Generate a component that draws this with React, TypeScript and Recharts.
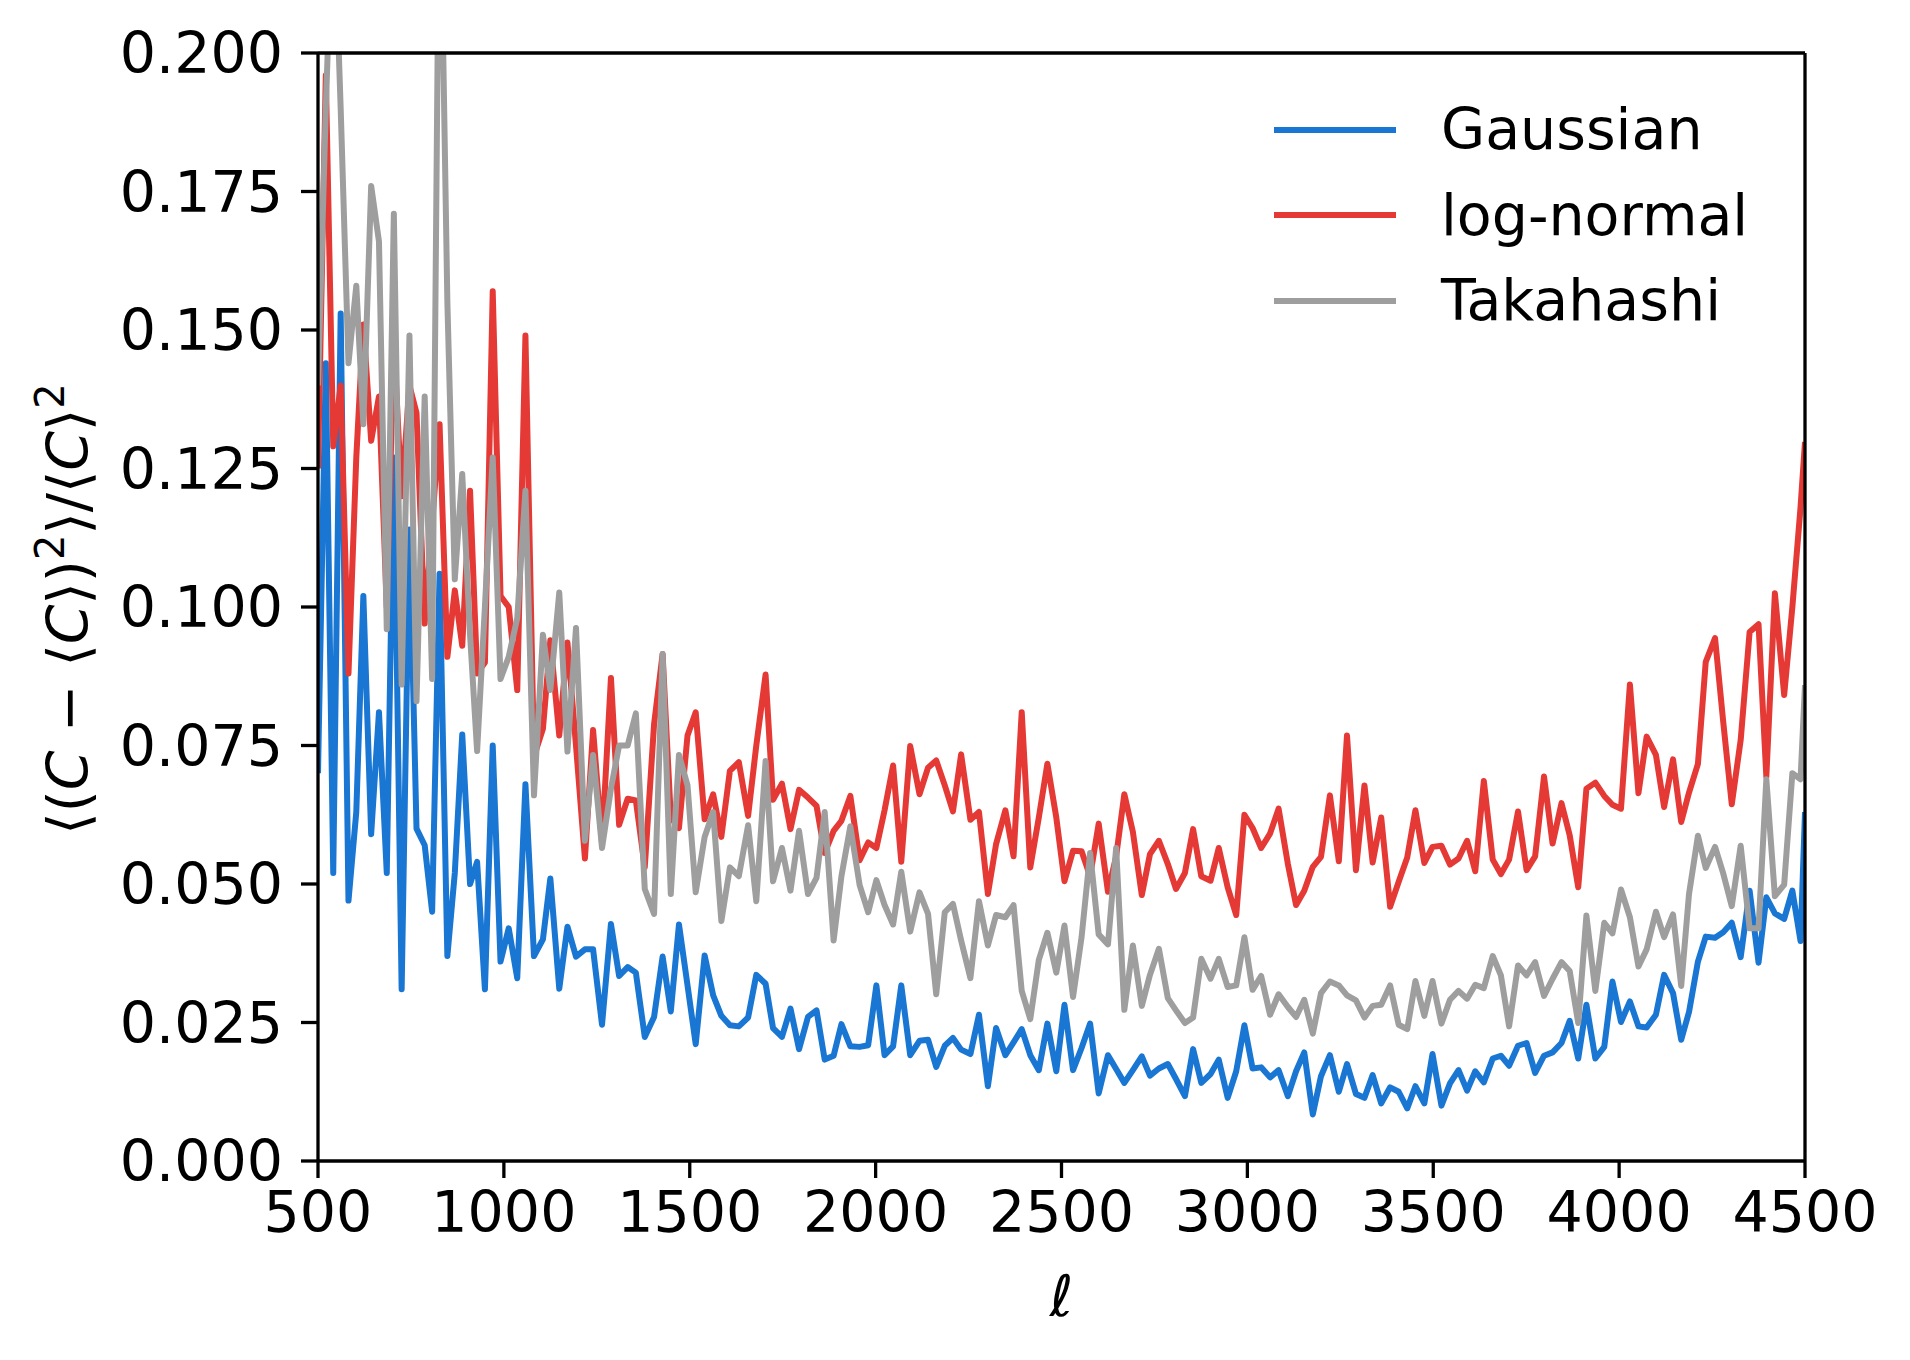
import React from 'react';
import { LineChart, Line, XAxis, YAxis, Legend, ReferenceLine } from 'recharts';

const FONT = '"DejaVu Sans", sans-serif';

const ELLS = [
  500, 521, 541, 561, 582, 603, 622, 643, 664, 685, 704, 725, 746, 765, 787, 807, 827, 848, 868, 888, 909, 928, 949, 970, 991, 1013, 1036, 1058, 1081, 1105, 1125,
  1149, 1171, 1194, 1218, 1240, 1264, 1288, 1310, 1333, 1355, 1379, 1404, 1427, 1449, 1471, 1494, 1516, 1540, 1563, 1585, 1608, 1632, 1657, 1679, 1704, 1724, 1748, 1771, 1794, 1818, 1841, 1863, 1887, 1908, 1932, 1957, 1980, 2002, 2024, 2047, 2069, 2093, 2118, 2141,
  2163, 2186, 2208, 2230, 2255, 2278, 2302, 2324, 2349, 2371, 2393, 2416, 2439, 2462, 2486, 2508, 2531, 2554, 2577, 2600, 2625, 2647, 2669, 2692, 2716, 2738, 2762, 2786, 2808, 2832, 2854, 2876, 2901, 2923, 2947, 2970, 2992, 3014, 3037, 3061, 3084, 3109, 3131, 3153,
  3176, 3198, 3222, 3246, 3268, 3292, 3315, 3337, 3360, 3384, 3407, 3430, 3452, 3476, 3498, 3522, 3545, 3568, 3591, 3613, 3636, 3660, 3682, 3704, 3728, 3751, 3774, 3798, 3821, 3845, 3867, 3890, 3912, 3936, 3960, 3982, 4005, 4029, 4052, 4074, 4099, 4121, 4145, 4167, 4188,
  4212, 4233, 4258, 4280, 4303, 4327, 4351, 4375, 4396, 4419, 4444, 4466, 4488, 4500,
];

const GAUSSIAN = [
  0.070, 0.144, 0.052, 0.153, 0.047, 0.063, 0.102, 0.059, 0.081, 0.052, 0.127, 0.031, 0.114, 0.060, 0.057, 0.045, 0.106, 0.037, 0.052, 0.077, 0.050, 0.054, 0.031, 0.075, 0.036, 0.042, 0.033, 0.068, 0.037, 0.040, 0.051,
  0.0311, 0.0423, 0.0369, 0.0382, 0.0382, 0.0246, 0.0428, 0.0334, 0.035, 0.034, 0.0224, 0.026, 0.0369, 0.027, 0.0427, 0.0317, 0.0211, 0.0371, 0.0299, 0.0262, 0.0245, 0.0243, 0.0259, 0.0336, 0.032, 0.024, 0.0224, 0.0275, 0.0202, 0.026, 0.0272, 0.0183, 0.019, 0.0247, 0.0207, 0.0206, 0.0209, 0.0317, 0.0191, 0.0207, 0.0317, 0.0191, 0.0217, 0.0219,
  0.017, 0.0208, 0.0222, 0.0201, 0.0193, 0.0264, 0.0135, 0.024, 0.0191, 0.0214, 0.0238, 0.0191, 0.0164, 0.0248, 0.0162, 0.0282, 0.0164, 0.0204, 0.0248, 0.0122, 0.0191, 0.0166, 0.0141, 0.0164, 0.0189, 0.0154, 0.0167, 0.0175, 0.0148, 0.0117, 0.0202, 0.0141, 0.0157, 0.0183, 0.0114, 0.0162, 0.0245, 0.0167, 0.0169, 0.0151, 0.0164, 0.0117, 0.0162, 0.0196,
  0.0084, 0.0153, 0.0191, 0.0125, 0.0175, 0.0121, 0.0114, 0.0155, 0.0104, 0.0133, 0.0125, 0.0095, 0.0135, 0.0104, 0.0193, 0.01, 0.014, 0.0164, 0.0127, 0.0162, 0.0142, 0.0185, 0.019, 0.0172, 0.0208, 0.0213, 0.0159, 0.019, 0.0196, 0.0213, 0.0253, 0.0185, 0.0282, 0.0185, 0.0206, 0.0324, 0.0251, 0.0288, 0.0243, 0.0241, 0.0264, 0.0336, 0.0303, 0.0219, 0.0269,
  0.036, 0.0405, 0.0403, 0.0413, 0.043, 0.0368, 0.0488, 0.0358, 0.0476, 0.0447, 0.0437, 0.0488, 0.0397, 0.063,
];

const LOGNORMAL = [
  0.125, 0.196, 0.129, 0.140, 0.088, 0.127, 0.151, 0.130, 0.138, 0.100, 0.148, 0.120, 0.140, 0.135, 0.097, 0.115, 0.133, 0.091, 0.103, 0.093, 0.121, 0.088, 0.090, 0.157, 0.102, 0.100, 0.085, 0.149, 0.073, 0.078, 0.094,
  0.0768, 0.0936, 0.075, 0.0546, 0.0778, 0.0575, 0.0872, 0.0607, 0.0654, 0.0651, 0.053, 0.0788, 0.0915, 0.062, 0.0601, 0.0768, 0.081, 0.0617, 0.0662, 0.0585, 0.0704, 0.072, 0.0623, 0.075, 0.0878, 0.0652, 0.0681, 0.0599, 0.067, 0.0656, 0.0641, 0.0556, 0.0596, 0.0614, 0.0659, 0.0543, 0.0575, 0.0565, 0.0633, 0.0714, 0.054, 0.0749, 0.0662, 0.071,
  0.0723, 0.0678, 0.0631, 0.0734, 0.0616, 0.063, 0.0482, 0.0572, 0.0633, 0.055, 0.081, 0.053, 0.062, 0.0717, 0.062, 0.0505, 0.056, 0.0559, 0.0514, 0.0609, 0.0486, 0.055, 0.0662, 0.0594, 0.048, 0.0554, 0.0578, 0.0536, 0.0491, 0.052, 0.0599, 0.0514, 0.0506, 0.0565, 0.0494, 0.0444, 0.0625, 0.0601, 0.0565, 0.0591, 0.0636, 0.0536, 0.0462, 0.0488,
  0.0531, 0.0549, 0.066, 0.0541, 0.0768, 0.0525, 0.0678, 0.0539, 0.062, 0.0459, 0.0504, 0.0548, 0.0633, 0.0538, 0.0567, 0.0569, 0.0535, 0.0546, 0.0578, 0.0523, 0.0686, 0.0544, 0.0518, 0.0544, 0.0631, 0.0525, 0.055, 0.0694, 0.0573, 0.0646, 0.0588, 0.0494, 0.0672, 0.0683, 0.0659, 0.0643, 0.0636, 0.086, 0.0664, 0.0766, 0.0733, 0.0639, 0.0725, 0.0612, 0.0665,
  0.0717, 0.0901, 0.0944, 0.0793, 0.0644, 0.076, 0.0955, 0.0969, 0.0694, 0.1025, 0.0841, 0.100, 0.118, 0.1298,
];

const TAKAHASHI = [
  0.140, 0.190, 0.230, 0.190, 0.144, 0.158, 0.133, 0.176, 0.166, 0.096, 0.171, 0.086, 0.149, 0.083, 0.138, 0.087, 0.240, 0.155, 0.105, 0.124, 0.095, 0.074, 0.100, 0.127, 0.087, 0.091, 0.098, 0.121, 0.066, 0.095, 0.085,
  0.1026, 0.0739, 0.0962, 0.0578, 0.0733, 0.0565, 0.0672, 0.075, 0.075, 0.0808, 0.0491, 0.0446, 0.0915, 0.0482, 0.0733, 0.0678, 0.0485, 0.0585, 0.063, 0.0433, 0.053, 0.0514, 0.0606, 0.0469, 0.0722, 0.0505, 0.0565, 0.0488, 0.0596, 0.0482, 0.0511, 0.063, 0.0398, 0.0514, 0.0604, 0.0498, 0.0449, 0.0507, 0.0462, 0.0427, 0.0522, 0.0414, 0.0485, 0.0446,
  0.0301, 0.0449, 0.0464, 0.0398, 0.033, 0.0469, 0.0389, 0.0444, 0.044, 0.0462, 0.0307, 0.0256, 0.0363, 0.0412, 0.034, 0.0425, 0.0296, 0.0404, 0.0556, 0.0409, 0.0391, 0.0565, 0.0273, 0.0389, 0.028, 0.0336, 0.0383, 0.0294, 0.0272, 0.0249, 0.0259, 0.0365, 0.0329, 0.0365, 0.0314, 0.0317, 0.0404, 0.0309, 0.0334, 0.0264, 0.0301, 0.0278, 0.026, 0.0291,
  0.023, 0.0303, 0.0324, 0.0317, 0.0299, 0.029, 0.0259, 0.028, 0.0282, 0.0317, 0.0246, 0.0238, 0.0325, 0.0262, 0.0325, 0.0248, 0.0291, 0.0307, 0.0293, 0.0318, 0.0312, 0.037, 0.0335, 0.0243, 0.0353, 0.0335, 0.0359, 0.0298, 0.0329, 0.0359, 0.0343, 0.0249, 0.0443, 0.0307, 0.043, 0.0411, 0.049, 0.044, 0.0351, 0.0382, 0.045, 0.0404, 0.0445, 0.0316, 0.0482,
  0.0587, 0.0529, 0.0567, 0.0519, 0.046, 0.0569, 0.042, 0.042, 0.0689, 0.0478, 0.0499, 0.07, 0.0689, 0.0859,
];

const X_TICKS = [500, 1000, 1500, 2000, 2500, 3000, 3500, 4000, 4500];
const Y_TICKS = [0, 0.025, 0.05, 0.075, 0.1, 0.125, 0.15, 0.175, 0.2];
const X_DOMAIN: [number, number] = [500, 4500];
const Y_DOMAIN: [number, number] = [0, 0.2];

const SERIES = [
  { key: 'gaussian', name: 'Gaussian', color: '#1976D2', values: GAUSSIAN },
  { key: 'lognormal', name: 'log-normal', color: '#E53935', values: LOGNORMAL },
  { key: 'takahashi', name: 'Takahashi', color: '#9E9E9E', values: TAKAHASHI },
];

const data = ELLS.map((l, i) => {
  const row: Record<string, number> = { l };
  SERIES.forEach((s) => {
    row[s.key] = s.values[i];
  });
  return row;
});

const FS = 57;
const LW = 6;
const AXW = 3.3;

const YLabel = (props: any) => {
  const vb = props.viewBox || { x: 18, y: 53, width: 300, height: 1108 };
  const cx = vb.x + 70;
  const cy = vb.y + vb.height / 2 + 2;
  const sup = 40;
  const sh = 24;
  return (
    <text
      x={cx}
      y={cy}
      transform={`rotate(-90, ${cx}, ${cy})`}
      textAnchor="middle"
      fontFamily={FONT}
      fontSize={FS}
      fill="#000"
    >
      <tspan>⟨(</tspan>
      <tspan fontStyle="italic">C</tspan>
      <tspan> − ⟨</tspan>
      <tspan fontStyle="italic">C</tspan>
      <tspan>⟩)</tspan>
      <tspan fontSize={sup} dy={-sh}>2</tspan>
      <tspan dy={sh}>⟩/⟨</tspan>
      <tspan fontStyle="italic">C</tspan>
      <tspan>⟩</tspan>
      <tspan fontSize={sup} dy={-sh}>2</tspan>
    </text>
  );
};

const XLabel = (props: any) => {
  const vb = props.viewBox || { x: 318, y: 1161, width: 1487, height: 150 };
  return (
    <text
      x={vb.x + vb.width / 2}
      y={vb.y + 155}
      textAnchor="middle"
      fontFamily={FONT}
      fontSize={FS}
      fontStyle="italic"
      fill="#000"
    >
      ℓ
    </text>
  );
};

const renderLegend = (props: any) => {
  const payload = props.payload || [];
  const ordered = SERIES.map((s) => payload.find((p: any) => p.value === s.name) || { value: s.name, color: s.color });
  return (
    <div style={{ fontFamily: FONT }}>
      {ordered.map((entry: any) => (
        <div
          key={entry.value}
          style={{ display: 'flex', alignItems: 'center', height: 85.5 }}
        >
          <svg width={122} height={12} style={{ display: 'block' }}>
            <line x1={0} y1={6} x2={122} y2={6} stroke={entry.color} strokeWidth={LW} />
          </svg>
          <span style={{ marginLeft: 45, fontSize: FS, lineHeight: `${FS}px`, color: '#000', whiteSpace: 'nowrap' }}>
            {entry.value}
          </span>
        </div>
      ))}
    </div>
  );
};

const tickStyle = { fill: '#000', fontSize: FS, fontFamily: FONT };

export default function App() {
  return (
    <div style={{ position: 'absolute', left: 0, top: 0, width: 1910, height: 1360, background: '#fff' }}>
      <LineChart
        width={1910}
        height={1360}
        data={data}
        margin={{ top: 53, right: 105, left: 18, bottom: 49 }}
      >
        <XAxis
          dataKey="l"
          type="number"
          domain={X_DOMAIN}
          ticks={X_TICKS}
          allowDataOverflow
          height={150}
          tick={tickStyle}
          tickSize={17}
          tickMargin={14}
          axisLine={{ stroke: '#000', strokeWidth: AXW }}
          tickLine={{ stroke: '#000', strokeWidth: AXW }}
          label={<XLabel />}
        />
        <YAxis
          type="number"
          domain={Y_DOMAIN}
          ticks={Y_TICKS}
          allowDataOverflow
          width={300}
          tick={tickStyle}
          tickFormatter={(v: number) => v.toFixed(3)}
          tickSize={17}
          tickMargin={18}
          axisLine={{ stroke: '#000', strokeWidth: AXW }}
          tickLine={{ stroke: '#000', strokeWidth: AXW }}
          label={<YLabel />}
        />
        <Legend
          layout="horizontal"
          verticalAlign="middle"
          align="center"
          content={renderLegend}
          wrapperStyle={{ position: 'absolute', left: 1274, top: 87, width: 560, height: 260 }}
        />
        {SERIES.map((s) => (
          <Line
            key={s.key}
            type="linear"
            dataKey={s.key}
            name={s.name}
            stroke={s.color}
            strokeWidth={LW}
            strokeLinejoin="round"
            dot={false}
            activeDot={false}
            isAnimationActive={false}
          />
        ))}
        <ReferenceLine y={Y_DOMAIN[1]} stroke="#000" strokeWidth={AXW} />
        <ReferenceLine x={X_DOMAIN[1]} stroke="#000" strokeWidth={AXW} />
      </LineChart>
    </div>
  );
}
